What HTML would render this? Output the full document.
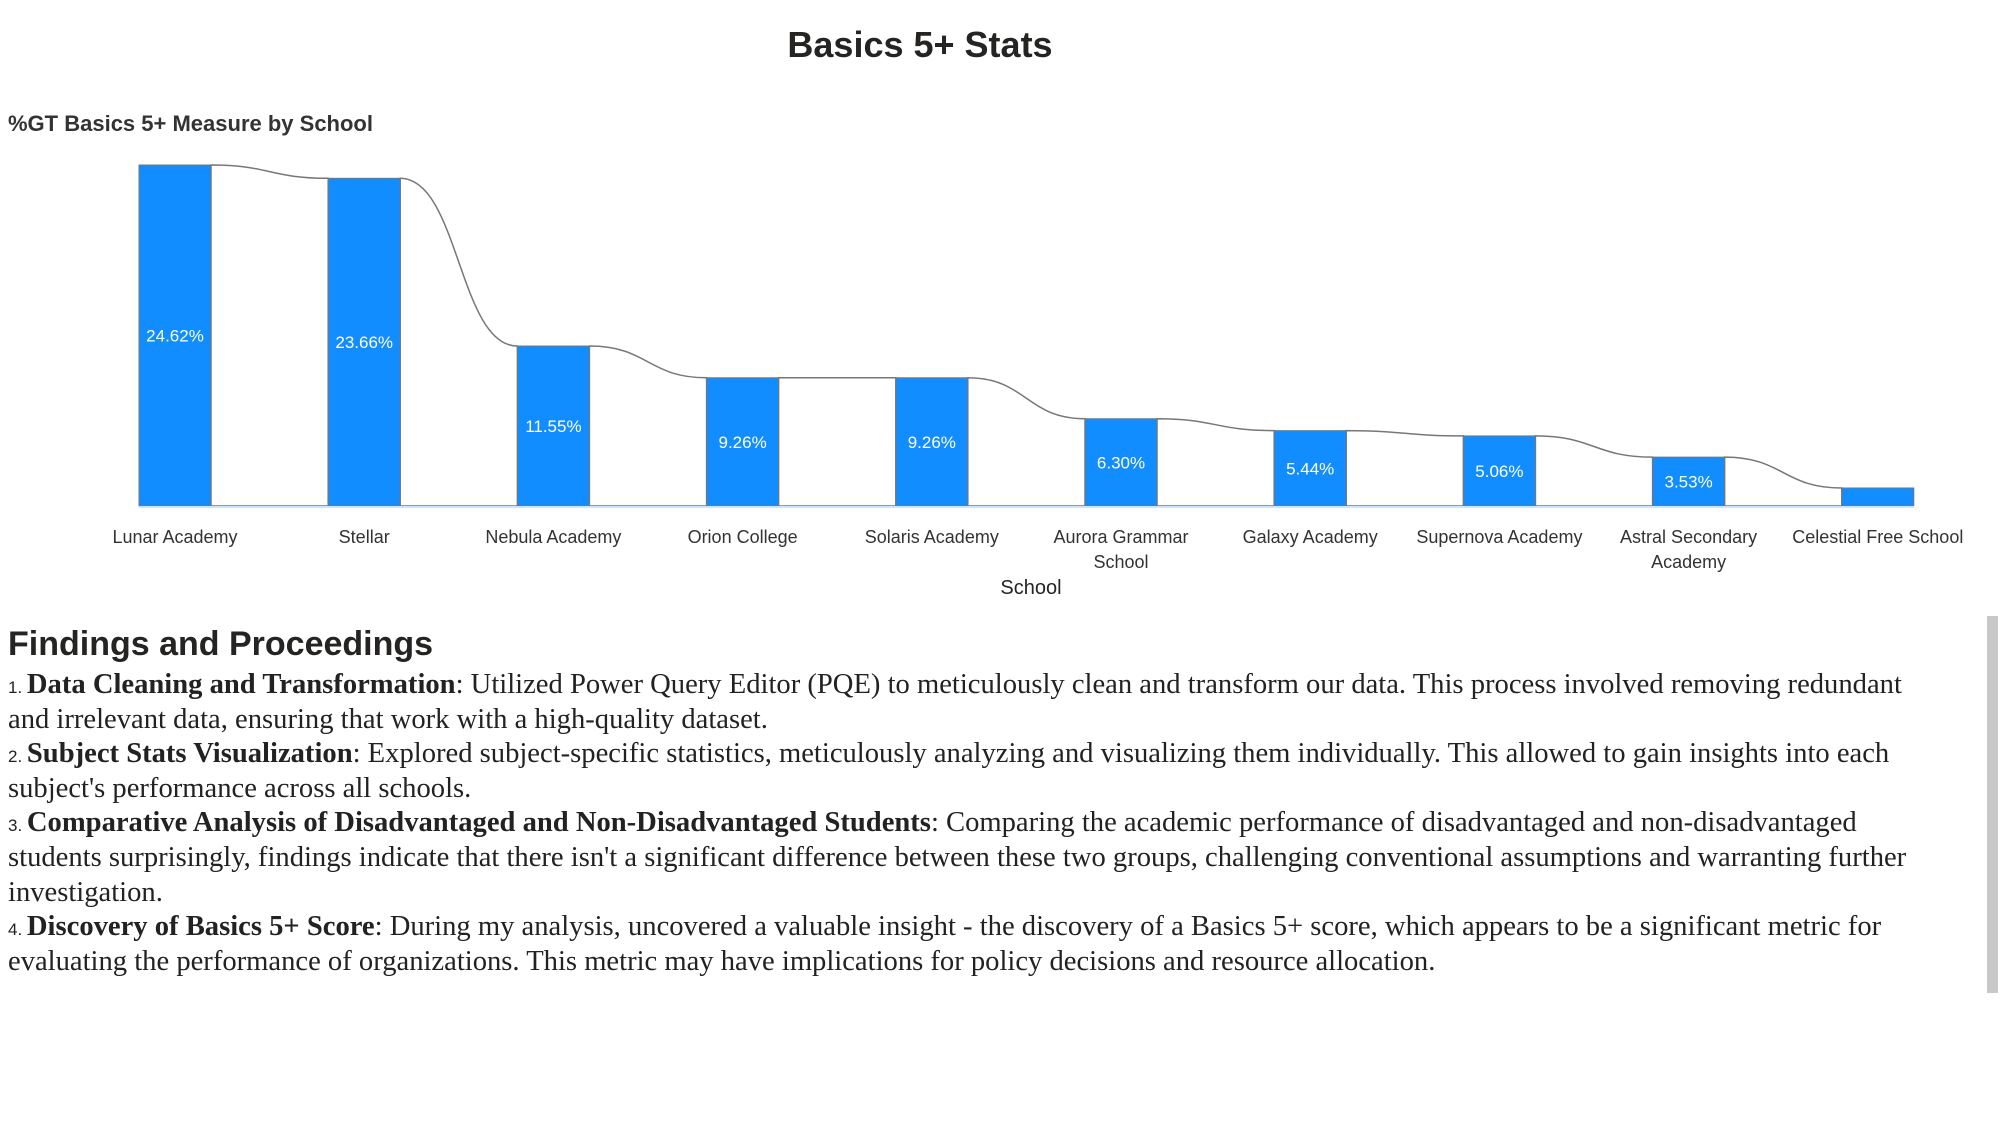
<!DOCTYPE html>
<html><head><meta charset="utf-8">
<style>
html,body{margin:0;padding:0;background:#fff;width:2000px;height:1140px;overflow:hidden;}
body{position:relative;font-family:"Liberation Sans",sans-serif;color:#252423;}
#title{position:absolute;left:0;width:1840px;top:24px;text-align:center;font-weight:bold;font-size:36px;}
#subtitle{position:absolute;left:8px;top:111px;font-size:22px;font-weight:bold;color:#333;}
#chart{position:absolute;left:0;top:0;}
#findings{position:absolute;left:8px;top:620px;width:1935px;}
#findings h2{margin:0;font-size:34px;font-weight:bold;line-height:48px;}
#findings ol{margin:0;padding:0;list-style:none;font-family:"Liberation Serif",serif;font-size:28.6px;line-height:34.6px;color:#222;}
#findings .n{font-family:"Liberation Sans",sans-serif;font-size:17px;line-height:0;}
#scroll{position:absolute;left:1987px;top:616px;width:11px;height:377px;background:#c8c8c8;}
</style></head><body>
<div id="title">Basics 5+ Stats</div>
<div id="subtitle">%GT Basics 5+ Measure by School</div>
<svg id="chart" width="2000" height="610"></svg>
<div id="findings">
<h2>Findings and Proceedings</h2>
<ol>
<li><span class="n">1. </span><b>Data Cleaning and Transformation</b>: Utilized Power Query Editor (PQE) to meticulously clean and transform our data. This process involved removing redundant and irrelevant data, ensuring that work with a high-quality dataset.</li>
<li><span class="n">2. </span><b>Subject Stats Visualization</b>: Explored subject-specific statistics, meticulously analyzing and visualizing them individually. This allowed to gain insights into each subject's performance across all schools.</li>
<li><span class="n">3. </span><b>Comparative Analysis of Disadvantaged and Non-Disadvantaged Students</b>: Comparing the academic performance of disadvantaged and non-disadvantaged students surprisingly, findings indicate that there isn't a significant difference between these two groups, challenging conventional assumptions and warranting further investigation.</li>
<li><span class="n">4. </span><b>Discovery of Basics 5+ Score</b>: During my analysis, uncovered a valuable insight - the discovery of a Basics 5+ score, which appears to be a significant metric for evaluating the performance of organizations. This metric may have implications for policy decisions and resource allocation.</li>
</ol></div>
<div id="scroll"></div>
<script>
const categories=[["Lunar Academy"],["Stellar"],["Nebula Academy"],["Orion College"],["Solaris Academy"],["Aurora Grammar","School"],["Galaxy Academy"],["Supernova Academy"],["Astral Secondary","Academy"],["Celestial Free School"]];
const values=[24.62,23.66,11.55,9.26,9.26,6.30,5.44,5.06,3.53,1.30];
const valueLabels=["24.62%","23.66%","11.55%","9.26%","9.26%","6.30%","5.44%","5.06%","3.53%",""];
const svg=document.getElementById('chart');
const NS="http://www.w3.org/2000/svg";
const x0=175,step=189.2,bw=72,base=506,scale=13.85;
const xC=i=>x0+i*step;
const yV=v=>base-v*scale;
function mk(t,a){const e=document.createElementNS(NS,t);for(const k in a)e.setAttribute(k,a[k]);svg.appendChild(e);return e;}
for(let i=0;i<values.length-1;i++){
  const xa=xC(i)+bw/2,xb=xC(i+1)-bw/2,ya=yV(values[i]),yb=yV(values[i+1]),m=(xa+xb)/2;
  const r=mk('path',{d:`M${xa},${ya} C${m},${ya} ${m},${yb} ${xb},${yb} L${xb},${base} L${xa},${base} Z`,fill:'#fff',stroke:'#777','stroke-width':1.5});
  
  
}
values.forEach((v,i)=>{
  const b=mk('rect',{x:xC(i)-bw/2,y:yV(v),width:bw,height:v*scale,fill:'#118dff',stroke:'#777','stroke-width':1});
  
  
  if(valueLabels[i]){
    const t=mk('text',{x:xC(i),y:(yV(v)+base)/2+6,'text-anchor':'middle',fill:'#fff','font-size':17,'font-family':'Liberation Sans, sans-serif'});
    t.textContent=valueLabels[i];
    
    
  }
  categories[i].forEach((line,j)=>{
    const t=mk('text',{x:xC(i),y:543+j*25,'text-anchor':'middle',fill:'#333','font-size':18,'font-family':'Liberation Sans, sans-serif'});
    t.textContent=line;
    
    
  });
});
mk('line',{x1:xC(0)-bw/2,x2:xC(values.length-1)+bw/2,y1:base+1,y2:base+1,stroke:'#cfe4ff','stroke-width':2});
const xt=mk('text',{x:1031,y:594,'text-anchor':'middle',fill:'#252423','font-size':20,'font-family':'Liberation Sans, sans-serif'});
xt.textContent="School";


</script>
</body></html>
